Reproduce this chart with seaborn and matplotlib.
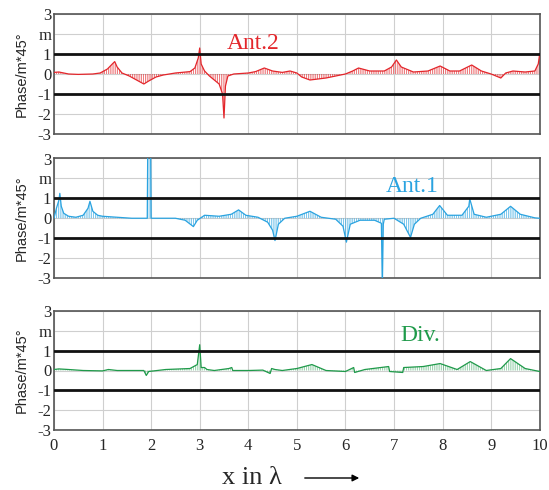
import matplotlib
matplotlib.use("Agg")
import matplotlib.pyplot as plt
import seaborn as sns
import numpy as np

# ---- data ----
ant2_x = [0, 0.1, 0.2, 0.3, 0.5, 0.8, 0.95, 1.1, 1.2, 1.25, 1.3, 1.4, 1.55, 1.7, 1.85,
          1.95, 2.1, 2.25, 2.5, 2.8, 2.9, 2.97, 3.0, 3.03, 3.1, 3.2, 3.3, 3.4, 3.47, 3.5,
          3.53, 3.58, 3.7, 4.0, 4.15, 4.33, 4.5, 4.7, 4.86, 5.0, 5.1, 5.27, 5.6, 6.0, 6.15,
          6.27, 6.5, 6.8, 6.95, 7.05, 7.15, 7.4, 7.7, 7.95, 8.15, 8.35, 8.6, 8.8, 9.0, 9.2,
          9.3, 9.45, 9.7, 9.9, 9.97, 10.0]
ant2_y = [0.08, 0.1, 0.05, 0.0, -0.02, 0.0, 0.05, 0.25, 0.5, 0.62, 0.35, 0.05, -0.1, -0.3, -0.5,
          -0.35, -0.15, -0.05, 0.05, 0.12, 0.3, 0.8, 1.3, 0.5, 0.15, -0.1, -0.3, -0.5, -1.0, -2.2,
          -0.6, -0.1, 0.0, 0.05, 0.12, 0.3, 0.15, 0.08, 0.15, 0.05, -0.15, -0.3, -0.2, 0.0, 0.15,
          0.3, 0.15, 0.15, 0.35, 0.7, 0.35, 0.1, 0.15, 0.4, 0.15, 0.15, 0.45, 0.15, 0.0, -0.2,
          0.05, 0.15, 0.1, 0.15, 0.5, 1.0]

ant1_x = [0, 0.05, 0.1, 0.12, 0.15, 0.2, 0.3, 0.45, 0.6, 0.7, 0.74, 0.8, 0.9, 1.0, 1.3,
          1.6, 1.9, 1.92, 1.93, 1.99, 2.0, 2.1, 2.5, 2.7, 2.87, 2.95, 3.1, 3.4, 3.65, 3.8,
          3.95, 4.2, 4.4, 4.5, 4.55, 4.62, 4.75, 5.0, 5.27, 5.5, 5.8, 5.95, 6.02, 6.1, 6.3,
          6.6, 6.74, 6.76, 6.78, 6.8, 7.0, 7.2, 7.34, 7.42, 7.55, 7.8, 7.94, 8.1, 8.4, 8.54,
          8.56, 8.65, 8.9, 9.2, 9.4, 9.6, 9.9, 10]
ant1_y = [0.0, 0.5, 0.9, 1.25, 0.6, 0.25, 0.1, 0.05, 0.15, 0.5, 0.85, 0.35, 0.15, 0.1, 0.05,
          0.0, 0.0, 0.0, 3.5, 3.5, 0.0, 0.0, 0.0, -0.1, -0.42, -0.1, 0.15, 0.1, 0.2, 0.42,
          0.15, 0.05, -0.2, -0.6, -1.12, -0.3, 0.0, 0.1, 0.35, 0.05, -0.05, -0.4, -1.2, -0.3, -0.1,
          -0.1, -0.25, -3.5, -0.3, -0.05, 0.0, -0.3, -0.96, -0.3, 0.0, 0.2, 0.64, 0.15, 0.15, 0.6,
          0.97, 0.2, 0.05, 0.2, 0.6, 0.2, 0.02, 0.0]

div_x = [0, 0.1, 0.3, 0.6, 1.0, 1.12, 1.3, 1.85, 1.9, 1.95, 2.3, 2.8, 2.95, 3.0, 3.03,
         3.1, 3.15, 3.3, 3.6, 3.66, 3.68, 4.0, 4.3, 4.45, 4.48, 4.55, 4.7, 5.0, 5.31, 5.6,
         6.0, 6.17, 6.19, 6.4, 6.89, 6.91, 7.18, 7.2, 7.6, 7.95, 8.3, 8.57, 8.9, 9.2, 9.4,
         9.7, 10]
div_y = [0.05, 0.08, 0.05, 0.0, -0.02, 0.05, 0.0, 0.0, -0.25, -0.05, 0.05, 0.1, 0.3, 1.3, 0.15,
         0.15, 0.05, 0.0, 0.1, 0.15, 0.0, 0.0, 0.02, -0.15, 0.1, 0.05, 0.0, 0.1, 0.3, 0.0,
         -0.05, 0.15, -0.1, 0.05, 0.2, -0.05, -0.1, 0.15, 0.2, 0.35, 0.05, 0.45, 0.0, 0.1, 0.6,
         0.1, -0.05]

series_names = ["Ant.2", "Ant.1", "Div."]
series_x = [ant2_x, ant1_x, div_x]
series_y = [ant2_y, ant1_y, div_y]
colors = ["#e3262b", "#2aa3e0", "#1f9a4a"]
label_pos = [(4.1, 1.5), (7.37, 1.6), (7.55, 1.75)]
hatch_alpha = [0.85, 0.85, 0.6]

ytick_vals = [-3, -2, -1, 0, 1, 2, 3]
ytick_labels = ["-3", "-2", "-1", "0", "1", "m", "3"]
xtick_vals = list(range(0, 11))

# ---- style ----
sns.set_style("white")
plt.rcParams['font.family'] = ['Liberation Serif', 'DejaVu Serif']
plt.rcParams['hatch.linewidth'] = 0.5

fig = plt.figure(figsize=(5.49, 4.90), dpi=100)
W, H = 549, 490
panels = [(14, 134), (158.5, 278), (311, 430)]
left, right = 54, 539.7

for i, (top, bot) in enumerate(panels):
    ax = fig.add_axes([left / W, 1 - bot / H, (right - left) / W, (bot - top) / H])
    x, y, c = series_x[i], series_y[i], colors[i]
    ax.fill_between(x, 0, y, facecolor='none', edgecolor=c, hatch='|||||||||',
                    linewidth=0, alpha=hatch_alpha[i], zorder=2)
    sns.lineplot(x=x, y=y, color=c, linewidth=0.9, ax=ax, estimator=None, sort=False, zorder=3)
    ax.axhline(1, color='#111111', lw=2.0, zorder=4)
    ax.axhline(-1, color='#111111', lw=2.0, zorder=4)
    ax.set_xlim(0, 10)
    ax.set_ylim(-3, 3)
    ax.set_yticks(ytick_vals)
    ax.set_yticklabels(ytick_labels, fontsize=12)
    ax.set_xticks(xtick_vals)
    ax.grid(True, color='#cfcfcf', lw=0.8, zorder=0)
    ax.set_axisbelow(True)
    ax.tick_params(axis='both', length=0, pad=2)
    if i < 2:
        ax.set_xticklabels([])
    else:
        ax.set_xticklabels([str(v) for v in xtick_vals], fontsize=12)
        ax.tick_params(axis='x', pad=6)
    for s in ax.spines.values():
        s.set_color('#555555')
        s.set_linewidth(1.2)
    ax.set_ylabel("Phase/m*45°", fontsize=10.5, family=['Liberation Sans', 'DejaVu Sans'],
                  labelpad=6)
    ax.set_xlabel("")
    lx, ly = label_pos[i]
    ax.text(lx, ly, series_names[i], color=c, fontsize=17, ha='center', va='center', zorder=5)

fig.text(222 / W, 1 - 478 / H, "x in λ", fontsize=19, ha='left', va='center')
fig.add_artist(matplotlib.patches.FancyArrowPatch(
    (302 / W, 1 - 478 / H), (362 / W, 1 - 478 / H), transform=fig.transFigure,
    arrowstyle='-|>', mutation_scale=10, color='black', lw=1.0))

fig.savefig("out.png", dpi=100)
